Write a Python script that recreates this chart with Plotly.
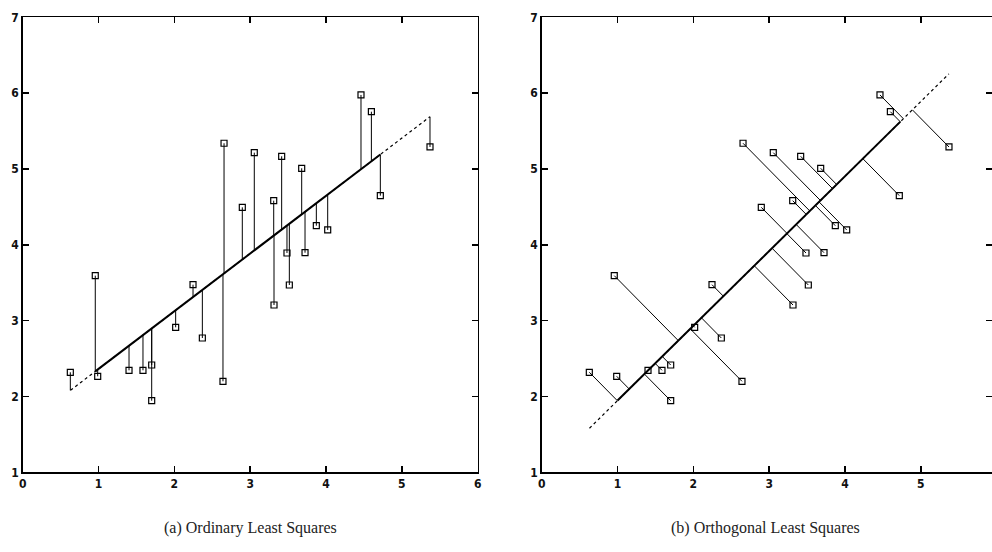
import numpy as np
import plotly.graph_objects as go

# ---- data ----
x_vals = [0.628, 0.957, 0.989, 1.402, 1.586, 1.701, 1.701, 2.017, 2.246, 2.369,
          2.641, 2.655, 2.896, 3.054, 3.310, 3.314, 3.415, 3.485, 3.516, 3.679,
          3.723, 3.872, 4.022, 4.461, 4.598, 4.716, 5.371]
y_vals = [2.319, 3.593, 2.266, 2.345, 2.345, 2.415, 1.944, 2.912, 3.474, 2.771,
          2.200, 5.339, 4.494, 5.215, 4.582, 3.206, 5.167, 3.892, 3.470, 5.009,
          3.896, 4.252, 4.196, 5.976, 5.755, 4.648, 5.290]

ols_intercept, ols_slope = 1.602, 0.761
tls_intercept, tls_slope = 0.960, 0.986
line_x_range = [0.63, 5.37]        # dotted extent of both fitted lines
ols_solid_x = [0.957, 4.716]       # solid part, panel (a)
tls_solid_x = [1.0, 4.73]          # solid part, panel (b)

x_ticks = [0, 1, 2, 3, 4, 5, 6]
y_ticks = [1, 2, 3, 4, 5, 6, 7]
captions = ["(a) Ordinary Least Squares", "(b) Orthogonal Least Squares"]

W, H = 992, 552


def px_x(p):
    return p / W


def px_y(p):
    return 1 - p / H


TICK_FONT = dict(family="Liberation Sans Narrow, Arial Narrow, DejaVu Sans Condensed, sans-serif",
                 size=12, color="#111111", weight="bold")

x = np.array(x_vals)
y = np.array(y_vals)

fig = go.Figure()

# ---- panel (a): vertical residuals ----
rx, ry = [], []
for xi, yi in zip(x, y):
    rx += [xi, xi, None]
    ry += [yi, ols_intercept + ols_slope * xi, None]
fig.add_trace(go.Scatter(x=rx, y=ry, mode="lines", line=dict(color="black", width=1),
                         xaxis="x", yaxis="y", hoverinfo="skip"))
lx = np.array(line_x_range)
fig.add_trace(go.Scatter(x=lx, y=ols_intercept + ols_slope * lx, mode="lines",
                         line=dict(color="black", width=1.2, dash="dot"), xaxis="x", yaxis="y"))
sx = np.array(ols_solid_x)
fig.add_trace(go.Scatter(x=sx, y=ols_intercept + ols_slope * sx, mode="lines",
                         line=dict(color="black", width=2), xaxis="x", yaxis="y"))
fig.add_trace(go.Scatter(x=x, y=y, mode="markers",
                         marker=dict(symbol="square-open", size=6, color="black", line=dict(width=1.2)),
                         xaxis="x", yaxis="y"))

# ---- panel (b): orthogonal residuals ----
d = np.array([1.0, tls_slope]) / np.hypot(1.0, tls_slope)
px_, py_ = [], []
for xi, yi in zip(x, y):
    t = xi * d[0] + (yi - tls_intercept) * d[1]
    fx, fy = t * d[0], tls_intercept + t * d[1]
    px_ += [xi, fx, None]
    py_ += [yi, fy, None]
fig.add_trace(go.Scatter(x=px_, y=py_, mode="lines", line=dict(color="black", width=1),
                         xaxis="x2", yaxis="y2", hoverinfo="skip"))
fig.add_trace(go.Scatter(x=lx, y=tls_intercept + tls_slope * lx, mode="lines",
                         line=dict(color="black", width=1.2, dash="dot"), xaxis="x2", yaxis="y2"))
tx = np.array(tls_solid_x)
fig.add_trace(go.Scatter(x=tx, y=tls_intercept + tls_slope * tx, mode="lines",
                         line=dict(color="black", width=2), xaxis="x2", yaxis="y2"))
fig.add_trace(go.Scatter(x=x, y=y, mode="markers",
                         marker=dict(symbol="square-open", size=6, color="black", line=dict(width=1.2)),
                         xaxis="x2", yaxis="y2"))

# ---- axes ----
ydom = [px_y(472.3), px_y(17.3)]
dom_a = [px_x(22.7), px_x(477.7)]
dom_b = [px_x(541.7), 1.0]
right_max = (W - 541.7) / 75.83

common = dict(showgrid=False, zeroline=False, showline=True, linecolor="black", linewidth=1.5,
              ticks="inside", ticklen=6, tickwidth=1.5, tickcolor="black", tickfont=TICK_FONT,
              automargin=False, mirror="ticks")

fig.update_layout(
    width=W, height=H, margin=dict(l=0, r=0, t=0, b=0, autoexpand=False),
    paper_bgcolor="white", plot_bgcolor="white", showlegend=False, hovermode=False,
    xaxis=dict(domain=dom_a, range=[0, 6], tickvals=x_ticks, anchor="y", **common),
    yaxis=dict(domain=ydom, range=[1, 7], tickvals=y_ticks, anchor="x", **common),
    xaxis2=dict(domain=dom_b, range=[0, right_max], tickvals=x_ticks, anchor="y2", **common),
    yaxis2=dict(domain=ydom, range=[1, 7], tickvals=y_ticks, anchor="x2", **common),
)

for cap, cx in zip(captions, [250.5, 765.0]):
    fig.add_annotation(text=cap, x=px_x(cx), y=px_y(528), xref="paper", yref="paper",
                       showarrow=False, xanchor="center", yanchor="middle",
                       font=dict(family="Liberation Serif, DejaVu Serif, serif", size=16, color="#222222"))

fig.write_html("out.html", config={"displayModeBar": False, "staticPlot": True},
               post_script="document.body.style.margin='0';document.body.style.overflow='hidden';")
